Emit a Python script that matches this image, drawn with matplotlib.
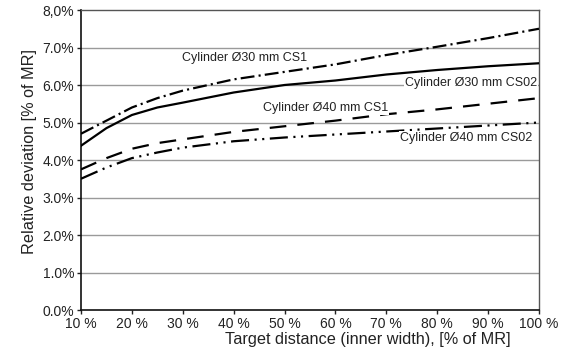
import matplotlib
matplotlib.use("Agg")
import matplotlib.pyplot as plt

plt.rcParams['font.family'] = ['Liberation Sans', 'DejaVu Sans']
plt.rcParams['lines.scale_dashes'] = False

x = [10, 15, 20, 25, 30, 40, 50, 60, 70, 80, 90, 100]
cyl30_cs1 = [4.7, 5.05, 5.4, 5.65, 5.85, 6.15, 6.35, 6.55, 6.8, 7.02, 7.25, 7.5]
cyl30_cs02 = [4.38, 4.85, 5.2, 5.4, 5.53, 5.8, 6.0, 6.12, 6.28, 6.4, 6.5, 6.58]
cyl40_cs1 = [3.75, 4.05, 4.3, 4.45, 4.55, 4.75, 4.9, 5.05, 5.22, 5.35, 5.5, 5.65]
cyl40_cs02 = [3.5, 3.8, 4.05, 4.2, 4.33, 4.5, 4.6, 4.68, 4.76, 4.84, 4.92, 5.0]

xticks = [10, 20, 30, 40, 50, 60, 70, 80, 90, 100]
xticklabels = ["10 %", "20 %", "30 %", "40 %", "50 %", "60 %", "70 %", "80 %", "90 %", "100 %"]
yticks = [0, 1, 2, 3, 4, 5, 6, 7, 8]
yticklabels = ["0.0%", "1.0%", "2.0%", "3.0%", "4.0%", "5.0%", "6.0%", "7.0%", "8,0%"]

fig = plt.figure(figsize=(5.68, 3.51), dpi=100)
ax = fig.add_axes([81/568, 1-310/351, (539-81)/568, 300/351])

for yv in yticks[1:-1]:
    ax.axhline(yv, color='#9a9a9a', lw=1.0, zorder=1)

ax.plot(x, cyl30_cs1, color='black', lw=1.6, dashes=(10, 3, 1.5, 3), zorder=3)
ax.plot(x, cyl30_cs02, color='black', lw=1.6, zorder=3)
ax.plot(x, cyl40_cs1, color='black', lw=1.6, dashes=(12, 8), zorder=3)
ax.plot(x, cyl40_cs02, color='black', lw=1.6, dashes=(13, 4, 1.5, 4, 1.5, 4), zorder=3)

tkw = dict(fontsize=9, color='#222222', zorder=4,
           bbox=dict(facecolor='white', edgecolor='none', pad=0.5))
ax.text(29.8, 6.73, "Cylinder Ø30 mm CS1", ha='left', va='center', **tkw)
ax.text(73.6, 6.06, "Cylinder Ø30 mm CS02", ha='left', va='center', **tkw)
ax.text(45.8, 5.38, "Cylinder Ø40 mm CS1", ha='left', va='center', **tkw)
ax.text(72.6, 4.6, "Cylinder Ø40 mm CS02", ha='left', va='center', **tkw)

ax.set_xlim(10, 100)
ax.set_ylim(0, 8)
ax.set_xticks(xticks)
ax.set_xticklabels(xticklabels)
ax.set_yticks(yticks)
ax.set_yticklabels(yticklabels)
ax.tick_params(axis='both', labelsize=10, colors='#222222', length=3, width=1, direction='out')
ax.tick_params(axis='x', pad=2)
ax.tick_params(axis='y', pad=2)
for s in ['left', 'bottom']:
    ax.spines[s].set_color('#111111')
    ax.spines[s].set_linewidth(1.2)
for s in ['top', 'right']:
    ax.spines[s].set_color('#555555')
    ax.spines[s].set_linewidth(1.0)

ax.set_xlabel("Target distance (inner width), [% of MR]", fontsize=11.7, color='#222222',
              labelpad=1, x=0.627)
ax.set_ylabel("Relative deviation [% of MR]", fontsize=11.7, color='#222222', labelpad=4, y=0.53)

fig.savefig("out.png", dpi=100)
